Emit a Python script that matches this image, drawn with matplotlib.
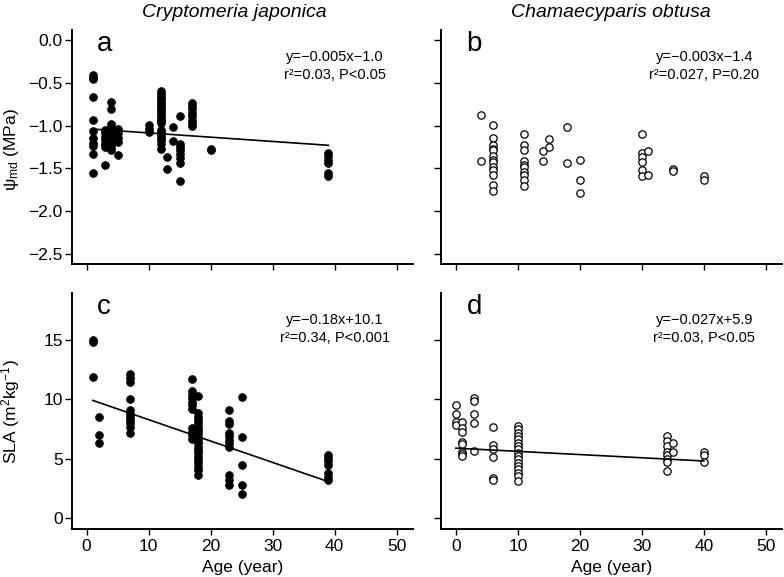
import matplotlib
matplotlib.use("Agg")
import matplotlib.pyplot as plt
from matplotlib.ticker import FixedLocator, FuncFormatter
import numpy as np

plt.rcParams['font.family'] = ['Liberation Sans', 'DejaVu Sans']
plt.rcParams['mathtext.fontset'] = 'custom'
plt.rcParams['mathtext.rm'] = 'Liberation Sans'
plt.rcParams['mathtext.it'] = 'Liberation Sans:italic'

# ---------------- data ----------------
titles = ["Cryptomeria japonica", "Chamaecyparis obtusa"]
panel_letters = ["a", "b", "c", "d"]

a_age = [1]*11 + [3]*7 + [4]*11 + [5]*5 + [10]*3 + [12]*21 + [13]*2 + [14]*2 + [15]*8 + [17]*8 + [20]*2 + [39]*6
a_psi = [-0.41, -0.44, -0.45, -0.67, -0.93, -1.06, -1.15, -1.20, -1.24, -1.33, -1.55,
         -1.05, -1.09, -1.13, -1.17, -1.21, -1.25, -1.46,
         -0.72, -0.80, -0.98, -1.01, -1.05, -1.09, -1.13, -1.17, -1.21, -1.25, -1.29,
         -1.04, -1.09, -1.14, -1.19, -1.34,
         -0.99, -1.04, -1.08,
         -0.60, -0.63, -0.66, -0.69, -0.72, -0.75, -0.77, -0.80, -0.83, -0.86, -0.89,
         -0.92, -0.94, -0.97, -1.05, -1.08, -1.11, -1.14, -1.17, -1.21, -1.27,
         -1.37, -1.51,
         -1.02, -1.18,
         -0.89, -1.21, -1.25, -1.29, -1.33, -1.38, -1.44, -1.65,
         -0.73, -0.77, -0.81, -0.85, -0.89, -0.93, -0.97, -1.00,
         -1.27, -1.29,
         -1.32, -1.36, -1.40, -1.44, -1.55, -1.59]

b_age = [4]*2 + [6]*13 + [11]*10 + [14]*2 + [15]*2 + [18]*2 + [20]*3 + [30]*6 + [31]*2 + [35]*2 + [40]*2
b_psi = [-0.88, -1.41,
         -0.99, -1.15, -1.23, -1.27, -1.29, -1.36, -1.40, -1.43, -1.48, -1.52, -1.58, -1.69, -1.77,
         -1.10, -1.23, -1.29, -1.41, -1.46, -1.49, -1.54, -1.58, -1.64, -1.71,
         -1.30, -1.41,
         -1.16, -1.25,
         -1.01, -1.44,
         -1.40, -1.64, -1.79,
         -1.10, -1.32, -1.37, -1.43, -1.52, -1.59,
         -1.30, -1.58,
         -1.51, -1.53,
         -1.585, -1.64]

c_age = [1]*3 + [2]*3 + [7]*11 + [17]*11 + [18]*20 + [23]*11 + [25]*5 + [39]*7
c_sla = [15.0, 14.8, 11.9,
         8.5, 7.0, 6.3,
         12.1, 11.8, 11.5, 10.0, 9.1, 8.8, 8.55, 8.3, 8.0, 7.7, 7.15,
         11.7, 10.7, 10.4, 10.1, 9.8, 9.5, 9.2, 7.6, 7.3, 7.0, 6.7,
         10.3, 8.83, 8.55, 8.27, 7.99, 7.71, 7.43, 7.15, 6.87, 6.59, 6.31, 6.03, 5.75,
         5.47, 5.19, 4.91, 4.63, 4.35, 4.07, 3.64,
         9.1, 8.2, 7.9, 7.15, 6.9, 6.6, 6.3, 6.0, 3.6, 3.2, 2.8,
         10.2, 6.8, 4.5, 2.8, 2.0,
         5.3, 5.05, 4.8, 4.5, 3.8, 3.5, 3.2]

d_age = [0]*4 + [1]*8 + [3]*5 + [6]*6 + [10]*17 + [34]*8 + [35]*2 + [40]*3
d_sla = [9.5, 8.8, 8.1, 7.85,
         8.1, 7.6, 7.3, 6.45, 6.25, 5.6, 5.4, 5.2,
         10.1, 9.9, 8.8, 8.0, 5.7,
         7.7, 6.2, 5.8, 5.15, 3.35, 3.2,
         7.77, 7.49, 7.2, 6.92, 6.64, 6.36, 6.08, 5.8, 5.52, 5.24, 4.96, 4.68, 4.4,
         4.12, 3.84, 3.56, 3.17,
         6.9, 6.5, 6.1, 5.6, 5.3, 4.95, 4.7, 4.0,
         6.3, 5.6,
         5.6, 5.3, 4.7]

# regression lines (slope, intercept, x-start, x-end); None = no line
fits = [(-0.005, -1.035, 1, 39), None, (-0.18, 10.1, 1, 39), (-0.027, 5.9, 0, 40)]
eq_text = [("y=\u22120.005x\u22121.0", "r\u00b2=0.03, P<0.05"),
           ("y=\u22120.003x\u22121.4", "r\u00b2=0.027, P=0.20"),
           ("y=\u22120.18x+10.1", "r\u00b2=0.34, P<0.001"),
           ("y=\u22120.027x+5.9", "r\u00b2=0.03, P<0.05")]

x_ticks = [0, 10, 20, 30, 40, 50]
psi_ticks = [0.0, -0.5, -1.0, -1.5, -2.0, -2.5]
sla_ticks = [0, 5, 10, 15]

# ---------------- figure ----------------
fig = plt.figure(figsize=(7.84, 5.77), dpi=100)
W, H = 784.0, 577.0
def ax_at(l, r, t, b):
    return fig.add_axes([l / W, 1 - b / H, (r - l) / W, (b - t) / H])

ax_a = ax_at(71.7, 412.7, 30, 264)
ax_b = ax_at(441, 782, 30, 264)
ax_c = ax_at(71.7, 412.7, 293, 529.3)
ax_d = ax_at(441, 782, 293, 529.3)
axes = [ax_a, ax_b, ax_c, ax_d]

ax_a.scatter(a_age, a_psi, s=32, c='black', edgecolors='black', linewidths=0.5, zorder=3)
ax_b.scatter(b_age, b_psi, s=28, facecolors='white', edgecolors='black', linewidths=0.9, zorder=3)
ax_c.scatter(c_age, c_sla, s=32, c='black', edgecolors='black', linewidths=0.5, zorder=3)
ax_d.scatter(d_age, d_sla, s=28, facecolors='white', edgecolors='black', linewidths=0.9, zorder=3)

def minus_fmt(v, pos):
    return f"{v:.1f}".replace('-', '\u2212')

for i, ax in enumerate(axes):
    for side in ['top', 'right']:
        ax.spines[side].set_visible(False)
    for side in ['left', 'bottom']:
        ax.spines[side].set_linewidth(1.4)
    ax.set_xlim(-2.4, 52.6)
    ax.xaxis.set_major_locator(FixedLocator(x_ticks))
    ax.tick_params(direction='out', width=1.0, labelsize=12.5)
    ax.tick_params(axis='x', length=4.2, pad=3)
    ax.tick_params(axis='y', length=5, pad=1.5)
    if i < 2:
        ax.set_ylim(-2.62, 0.12)
        ax.yaxis.set_major_locator(FixedLocator(psi_ticks))
        ax.yaxis.set_major_formatter(FuncFormatter(minus_fmt))
        ax.tick_params(axis='x', labelbottom=False)
    else:
        ax.set_ylim(-0.93, 18.96)
        ax.yaxis.set_major_locator(FixedLocator(sla_ticks))
        ax.set_xlabel("Age (year)", fontsize=12.5, labelpad=4)
    if i in (1, 3):
        ax.tick_params(axis='y', labelleft=False)
    f = fits[i]
    if f is not None:
        xs = np.array([f[2], f[3]])
        ax.plot(xs, f[0] * xs + f[1], color='black', lw=1.2, zorder=4)
    ax.text(0.075, 0.912, panel_letters[i], transform=ax.transAxes, fontsize=20,
            ha='left', va='baseline')
    ax.text(0.772, 0.886, eq_text[i][0], transform=ax.transAxes, fontsize=10.5,
            ha='center', va='center')
    ax.text(0.772, 0.808, eq_text[i][1], transform=ax.transAxes, fontsize=10.5,
            ha='center', va='center')

ax_a.set_ylabel("\u03c8$_{\\rm md}$ (MPa)", fontsize=12.5, va='center')
ax_a.yaxis.set_label_coords(-0.178, 0.49)
ax_c.set_ylabel("SLA (m$^{2}$kg$^{-1}$)", fontsize=12.5, va='center')
ax_c.yaxis.set_label_coords(-0.178, 0.5)

fig.text(234 / W, 1 - 12.5 / H, titles[0], fontsize=14, style='italic', ha='center', va='center')
fig.text(611 / W, 1 - 12.5 / H, titles[1], fontsize=14, style='italic', ha='center', va='center')

fig.savefig("out.png", dpi=100)
